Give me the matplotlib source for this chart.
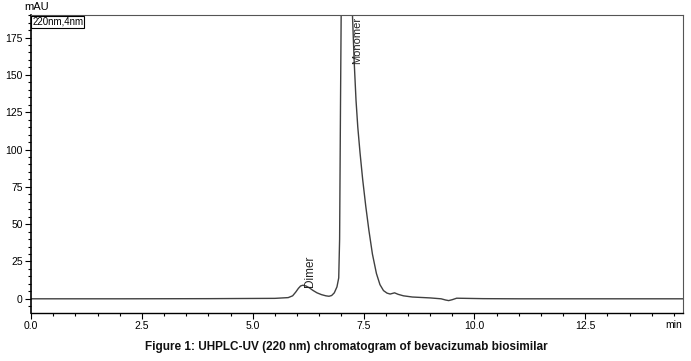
import matplotlib
matplotlib.use('Agg')
import matplotlib.pyplot as plt
from matplotlib.ticker import MultipleLocator
import numpy as np

plt.rcParams['font.family'] = ['Liberation Sans', 'DejaVu Sans']

# chromatogram (time in min, signal in mAU)
time = [0.0, 2.0, 4.0, 5.5, 5.8, 5.9, 5.97, 6.03, 6.08, 6.13, 6.2, 6.28, 6.36,
        6.45, 6.55, 6.65, 6.72, 6.78, 6.84, 6.9, 6.94, 6.96, 6.98, 7.01,
        7.05, 7.1, 7.16, 7.21, 7.25, 7.29, 7.33, 7.37, 7.42, 7.48, 7.55,
        7.62, 7.7, 7.79, 7.87, 7.95, 8.03, 8.1, 8.2, 8.28, 8.4, 8.6, 8.8,
        9.0, 9.25, 9.35, 9.42, 9.5, 9.6, 9.8, 10.2, 11.0, 12.5, 14.7]
signal = [0.0, 0.0, 0.1, 0.3, 0.8, 2.0, 4.5, 7.0, 8.6, 9.1, 8.6, 7.3, 5.6,
          4.0, 2.8, 2.0, 1.7, 2.2, 4.0, 8.0, 14.0, 40.0, 130.0, 250.0,
          330.0, 350.0, 320.0, 250.0, 190.0, 158.0, 133.0, 115.0, 98.0, 80.0, 62.0,
          46.0, 30.0, 17.0, 9.5, 5.5, 3.8, 3.2, 4.0, 3.0, 2.0, 1.2, 0.9,
          0.6, 0.0, -0.8, -1.2, -0.6, 0.4, 0.3, 0.1, 0.0, 0.0, 0.0]

peak_names = ['Dimer', 'Monomer']
peak_pos = [6.3, 7.35]
label_y = [8.0, 189.0]

xticks = [0.0, 2.5, 5.0, 7.5, 10.0, 12.5]
yticks = [0, 25, 50, 75, 100, 125, 150, 175]

fig = plt.figure(figsize=(6.91, 3.61), dpi=100)
ax = fig.add_axes((0.045, 0.133, 0.943, 0.825))

ax.plot(time, signal, color='#404040', lw=1.0)

ax.set_xlim(0, 14.7)
ax.set_ylim(-9.5, 190)
ax.set_xticks(xticks)
ax.set_xticklabels(['%.1f' % v for v in xticks])
ax.set_yticks(yticks)
ax.xaxis.set_minor_locator(MultipleLocator(0.5))
ax.yaxis.set_minor_locator(MultipleLocator(5))
ax.tick_params(which='major', direction='out', length=4, width=0.8, labelsize=7.5, pad=2)
ax.tick_params(which='minor', direction='out', length=2.5, width=0.8)

for s in ['top', 'right']:
    ax.spines[s].set_color('#555555')
    ax.spines[s].set_linewidth(0.8)
ax.spines['left'].set_linewidth(1.2)
ax.spines['bottom'].set_linewidth(1.0)

# peak labels, vertical
ax.text(peak_pos[0], label_y[0], peak_names[0], rotation=90, ha='center', va='bottom',
        fontsize=8.5, color='#222222')
ax.text(peak_pos[1], label_y[1], peak_names[1], rotation=90, ha='center', va='top',
        fontsize=8, color='#222222')

ax.text(0.002, 0.995, '220nm,4nm', transform=ax.transAxes, ha='left', va='top',
        fontsize=7, bbox=dict(boxstyle='square,pad=0.1', fc='white', ec='black', lw=0.8))

fig.text(0.035, 0.968, 'mAU', ha='left', va='bottom', fontsize=8)
fig.text(0.987, 0.100, 'min', ha='right', va='center', fontsize=7.5)

fig.text(0.501, 0.04, 'Figure 1: UHPLC-UV (220 nm) chromatogram of bevacizumab biosimilar',
         ha='center', va='center', fontsize=8.5, fontweight='bold', color='#111111')

plt.savefig('out.png', dpi=100)
